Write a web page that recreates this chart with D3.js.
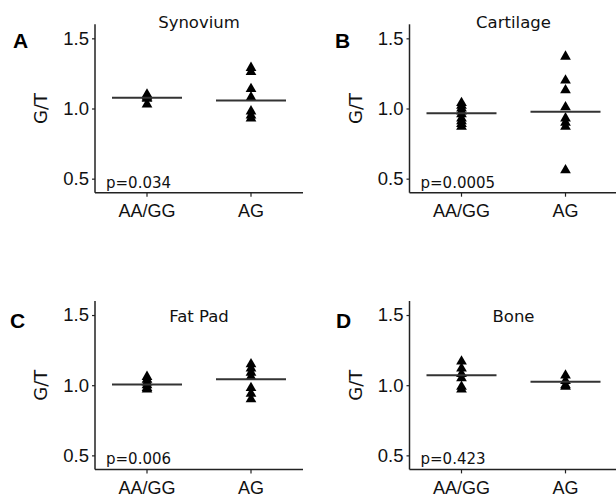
<!DOCTYPE html>
<html>
<head>
<meta charset="utf-8">
<script src="https://cdn.jsdelivr.net/npm/d3@7"></script>
<style>
  body { margin: 0; background: #fff; }
  svg { font-family: "DejaVu Sans", sans-serif; }
</style>
</head>
<body>
<div id="chart"></div>
<script>
// data
const panelLetters = ["A", "B", "C", "D"];
const tissues = ["Synovium", "Cartilage", "Fat Pad", "Bone"];
const genotypes = ["AA/GG", "AG"];
const pValues = ["p=0.034", "p=0.0005", "p=0.006", "p=0.423"];
const yTicks = [0.5, 1.0, 1.5];

const synoviumAAGG = [1.10, 1.09, 1.08, 1.07, 1.03];
const synoviumAG = [1.29, 1.26, 1.14, 1.08, 0.98, 0.95, 0.93];
const cartilageAAGG = [1.04, 1.02, 1.00, 0.98, 0.96, 0.93, 0.91, 0.89, 0.87];
const cartilageAG = [1.37, 1.20, 1.13, 1.01, 0.93, 0.90, 0.87, 0.56];
const fatPadAAGG = [1.06, 1.04, 1.02, 1.00, 0.98, 0.97];
const fatPadAG = [1.15, 1.12, 1.09, 1.06, 0.98, 0.94, 0.90];
const boneAAGG = [1.17, 1.12, 1.08, 1.05, 0.99, 0.97];
const boneAG = [1.07, 1.03, 1.00, 0.99];

// horizontal centre lines (AA/GG, AG)
const centreLines = [
  [1.076, 1.057],
  [0.966, 0.976],
  [1.005, 1.043],
  [1.071, 1.024]
];

const series = [
  [synoviumAAGG, synoviumAG],
  [cartilageAAGG, cartilageAG],
  [fatPadAAGG, fatPadAG],
  [boneAAGG, boneAG]
];

// panel placement
const layout = [
  { x: 95, y: 24.3, titleDy: 4, letterX: 13, letterY: 48 },
  { x: 409.5, y: 24.3, titleDy: 4, letterX: 335, letterY: 48 },
  { x: 95, y: 301, titleDy: 21, letterX: 10, letterY: 328 },
  { x: 409.5, y: 301, titleDy: 21, letterX: 336, letterY: 328 }
];
const W = 208, H = 168.4;

const svg = d3.select("#chart").append("svg")
  .attr("width", 616)
  .attr("height", 497);

const x = d3.scaleBand().domain(genotypes).range([0, W]);
const y = d3.scaleLinear().domain([0.4, 1.6]).range([H, 0]);
const tri = d3.symbol().type(d3.symbolTriangle).size(50);

tissues.forEach((tissue, i) => {
  const L = layout[i];

  svg.append("text")
    .attr("x", L.letterX)
    .attr("y", L.letterY)
    .attr("font-size", 21)
    .attr("font-weight", "bold")
    .attr("font-family", "Liberation Sans, Arial, sans-serif")
    .text(panelLetters[i]);

  const g = svg.append("g").attr("transform", `translate(${L.x},${L.y})`);

  // y axis
  const yAxis = g.append("g")
    .call(d3.axisLeft(y).tickValues(yTicks).tickFormat(d3.format(".1f")).tickSize(3).tickPadding(3));
  yAxis.select(".domain").attr("d", `M0,0V${H}`).attr("stroke", "#222").attr("stroke-width", 1.5);
  yAxis.selectAll(".tick line").attr("stroke", "#222").attr("stroke-width", 1.2);
  yAxis.selectAll(".tick text").attr("font-size", 18.5).attr("fill", "#111").attr("font-family", null);

  // x axis
  const xAxis = g.append("g")
    .attr("transform", `translate(0,${H})`)
    .call(d3.axisBottom(x).tickSize(4).tickPadding(8));
  xAxis.select(".domain").attr("d", `M0,0H${W}`).attr("stroke", "#222").attr("stroke-width", 1.5);
  xAxis.selectAll(".tick line").attr("stroke", "#222").attr("stroke-width", 1.2);
  xAxis.selectAll(".tick text").attr("font-size", 18).attr("fill", "#111").attr("font-family", null);

  // y label
  g.append("text")
    .attr("transform", `translate(-48,${y(1.0)}) rotate(-90)`)
    .attr("text-anchor", "middle")
    .attr("font-size", 18)
    .attr("fill", "#111")
    .text("G/T");

  // title
  g.append("text")
    .attr("x", W / 2)
    .attr("y", L.titleDy)
    .attr("text-anchor", "middle")
    .attr("font-size", 16.5)
    .attr("fill", "#111")
    .text(tissue);

  // p value
  g.append("text")
    .attr("x", 11)
    .attr("y", H - 5)
    .attr("font-size", 15)
    .attr("fill", "#111")
    .text(pValues[i]);

  // points
  genotypes.forEach((gt, j) => {
    const cx = x(gt) + x.bandwidth() / 2;
    g.append("g").selectAll("path")
      .data(series[i][j])
      .enter().append("path")
      .attr("d", tri)
      .attr("transform", d => `translate(${cx},${y(d)})`)
      .attr("fill", "#000");

    g.append("line")
      .attr("x1", cx - 35)
      .attr("x2", cx + 35)
      .attr("y1", y(centreLines[i][j]))
      .attr("y2", y(centreLines[i][j]))
      .attr("stroke", "#333")
      .attr("stroke-width", 2);
  });
});
</script>
</body>
</html>
